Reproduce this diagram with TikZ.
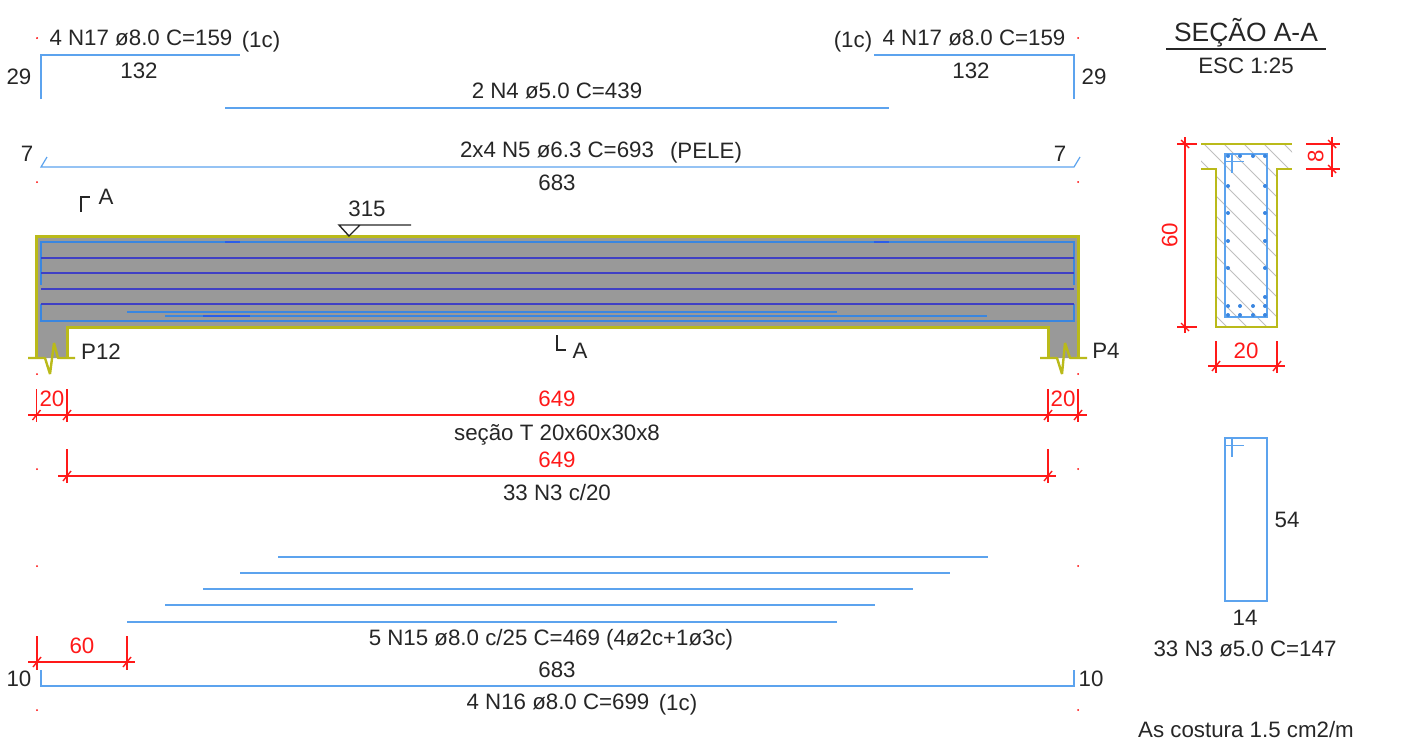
\documentclass[tikz,border=0pt]{standalone}
\usepackage{fontspec}
\setmainfont{Liberation Sans}
\tikzset{
	txt/.style={inner sep=0pt, text height=8pt, text depth=0.6pt, font=\fontsize{11.15}{13}\selectfont, text=black!85},
	dimtxt/.style={txt, text=red!90!white},
	rebar/.style={color=rebarblue, line width=0.6pt},
	inbeam/.style={color=beamblue, line width=1pt},
	longbar/.style={color=longblue, line width=0.8pt},
	outline/.style={color=concrete, line width=1.5pt},
	dimline/.style={color=red!90!white, line width=0.7pt},
	refdot/.style={fill=red, draw=none},
	bardot/.style={fill=beamblue, draw=none},
}
\definecolor{rebarblue}{HTML}{5CA3EE}
\definecolor{beamblue}{HTML}{3A86E0}
\definecolor{longblue}{HTML}{3F3FC4}
\definecolor{concrete}{HTML}{BABA1A}
\begin{document}
\begin{tikzpicture}[x=0.5pt, y=-0.5pt]
	\useasboundingbox (0,0) rectangle (1425,744);
	% reference dots
	\foreach \py in {38,182,278,374,469,566,710}{
		\fill [refdot] (37,\py) circle (0.5pt);
		\fill [refdot] (1078,\py) circle (0.5pt);
	}
	% bars above the beam
	\draw [rebar] (41,99) |- (240,55);
	\draw [rebar] (874,55) -| (1074,99);
	\draw [rebar] (225,108) -- (889,108);
	\draw [rebar] (47,157) -- (41,167) -- (1074,167) -- (1080,157);
	\node [txt] (n17a) at (141,38) {4 N17 ø8.0 C=159};
	\node [txt] (n17ac) at (261,40) {(1c)};
	\node [txt] (n17bc) at (853,40) {(1c)};
	\node [txt] (n17b) at (974,38) {4 N17 ø8.0 C=159};
	\node [txt] (la) at (139,71) {132};
	\node [txt] (lb) at (971,71) {132};
	\node [txt] (ha) at (19,77) {29};
	\node [txt] (hb) at (1094,77) {29};
	\node [txt] (n4) at (557,91) {2 N4 ø5.0 C=439};
	\node [txt] (sa) at (27,154) {7};
	\node [txt] (sb) at (1060,154) {7};
	\node [txt] (n5) at (557,150) {2x4 N5 ø6.3 C=693};
	\node [txt] (pele) at (706,151) {(PELE)};
	\node [txt] (ln5) at (557,183) {683};
	% section marks
	\draw [black!85, line width=0.7pt] (81,212) |- (90,197);
	\node [txt] (aa) at (106,197) {A};
	\draw [black!85, line width=0.7pt] (557,335) |- (566,350);
	\node [txt] (ab) at (580,351) {A};
	% beam
	\fill [black!40] (36.5,236) -- (1078,236) -- (1078,358) -- (1048,358) -- (1048,327) -- (67,327) -- (67,358) -- (36.5,358) -- cycle;
	\draw [outline] (36.5,358) |- (1078,236) -- (1078,358);
	\draw [outline] (67,358) |- (1048,327) -- (1048,358);
	\draw [outline, line width=1.2pt, line join=bevel] (28,358) -- (45,358) -- (50,374) -- (54,343) -- (58,358) -- (75,358);
	\draw [outline, line width=1.2pt, line join=bevel] (1040,358) -- (1057,358) -- (1062,374) -- (1065,343) -- (1070,358) -- (1087,358);
	% bars in the beam
	\draw [inbeam] (41,285) |- (1074,242) -- (1074,285);
	\draw [inbeam] (41,304) |- (1074,321) -- (1074,304);
	\foreach \py in {258,273,289,304}
		\draw [longbar] (41,\py) -- (1074,\py);
	\draw [inbeam] (127,312) -- (837,312);
	\draw [inbeam] (165,316) -- (987,316);
	\draw [inbeam, color=beamblue!70!blue] (203,316) -- (250,316);
	\draw [inbeam, color=beamblue!70!blue] (225,242) -- (240,242);
	\draw [inbeam, color=beamblue!70!blue] (874,242) -- (889,242);
	\node [txt] (dist) at (367,209) {315};
	\draw [black!85, line width=0.7pt] (411,225) -- (339,225) -- (349,236) -- (360,225);
	\node [txt] (pa) at (101,352) {P12};
	\node [txt] (pb) at (1106,351) {P4};
	% dimensions below the beam
	\draw [dimline] (28,415) -- (1087,415);
	\foreach \px in {36.5,67,1048,1078}{
		\draw [dimline] (\px,389) -- (\px,422);
		\draw [dimline] (\px-4,420) -- (\px+4,410);
	}
	\node [dimtxt] (da) at (52,399) {20};
	\node [dimtxt] (db) at (557,399) {649};
	\node [dimtxt] (dc) at (1063,399) {20};
	\node [txt] (secao) at (557,433) {seção T 20x60x30x8};
	\draw [dimline] (58,476) -- (1056,476);
	\foreach \px in {67,1048}{
		\draw [dimline] (\px,449) -- (\px,483);
		\draw [dimline] (\px-4,481) -- (\px+4,471);
	}
	\node [dimtxt] (dd) at (557,460) {649};
	\node [txt] (n3) at (557,493) {33 N3 c/20};
	% bars N15 and N16
	\foreach \px/\py in {278/557,240/573,203/589,165/605,127/622}
		\draw [rebar] (\px,\py) --++ (710,0);
	\node [txt] (n15) at (551,638) {5 N15 ø8.0 c/25 C=469 (4ø2c+1ø3c)};
	\draw [dimline] (28,662) -- (135,662);
	\foreach \px in {37,127}{
		\draw [dimline] (\px,636) -- (\px,670);
		\draw [dimline] (\px-4,667) -- (\px+4,657);
	}
	\node [dimtxt] (de) at (82,646) {60};
	\draw [rebar] (41,670) |- (1074,686) -- (1074,670);
	\node [txt] (ln16) at (557,670) {683};
	\node [txt] (ga) at (19,679) {10};
	\node [txt] (gb) at (1091,679) {10};
	\node [txt] (n16) at (558,702) {4 N16 ø8.0 C=699};
	\node [txt] (n16c) at (678,703) {(1c)};
	% section A-A
	\node [txt, font=\fontsize{13.2}{15}\selectfont, text height=9.5pt] (title) at (1246,33) {SEÇÃO A-A};
	\draw [black!85, line width=0.7pt] (1166,49) -- (1326,49);
	\node [txt] (esc) at (1246,66) {ESC 1:25};
	\begin{scope}
		\clip (1201,144) -- (1292,144) -- (1292,169) -- (1277,169) -- (1277,327) -- (1216,327) -- (1216,169) -- (1201,169) -- cycle;
		\foreach \hx in {960,980,...,1300}
			\draw [black!25, line width=0.5pt] (\hx,100) --++ (300,300);
	\end{scope}
	\draw [outline, line width=1.2pt] (1201,144) -- (1292,144);
	\draw [outline, line width=1.2pt] (1201,169) -- (1216,169) -- (1216,327) -- (1277,327) -- (1277,169) -- (1292,169);
	\draw [rebar] (1225,154) rectangle (1267,317);
	\draw [rebar] (1225,161.5) --++ (19,0);
	\draw [rebar] (1232,154) --++ (0,19);
	\foreach \px/\py in {1228/156,1240/156,1253/156,1265/156,1228/186,1265/186,1228/213,1265/213,1228/241,1265/241,1228/268,1265/268,1228/306,1240/306,1253/306,1265/306,1228/315,1240/315,1253/315,1265/315,1265/297}
		\fill [bardot] (\px,\py) circle (1pt);
	\draw [dimline] (1185,137) -- (1185,333);
	\foreach \py in {144,327}{
		\draw [dimline] (1177,\py) -- (1197,\py);
		\draw [dimline] (1181,\py-4) -- (1189,\py+4);
	}
	\node [dimtxt, rotate=90] (hsec) at (1170,235) {60};
	\draw [dimline] (1332,137) -- (1332,177);
	\foreach \py in {144,169}{
		\draw [dimline] (1306,\py) -- (1340,\py);
		\draw [dimline] (1328,\py-4) -- (1336,\py+4);
	}
	\node [dimtxt, rotate=90] (hfl) at (1316,156) {8};
	\draw [dimline] (1208,366) -- (1285,366);
	\foreach \px in {1216,1277}{
		\draw [dimline] (\px,341) -- (\px,373);
		\draw [dimline] (\px-4,371) -- (\px+4,361);
	}
	\node [dimtxt] (bsec) at (1246,351) {20};
	% stirrup
	\draw [rebar] (1225,438) rectangle (1267,601);
	\draw [rebar] (1225,445.5) --++ (19,0);
	\draw [rebar] (1232,438) --++ (0,19);
	\node [txt] (est) at (1287,520) {54};
	\node [txt] (esb) at (1245,618) {14};
	\node [txt] (n3b) at (1245,649) {33 N3 ø5.0 C=147};
	\node [txt] (as) at (1246,730) {As costura 1.5 cm2/m};
\end{tikzpicture}
\end{document}
